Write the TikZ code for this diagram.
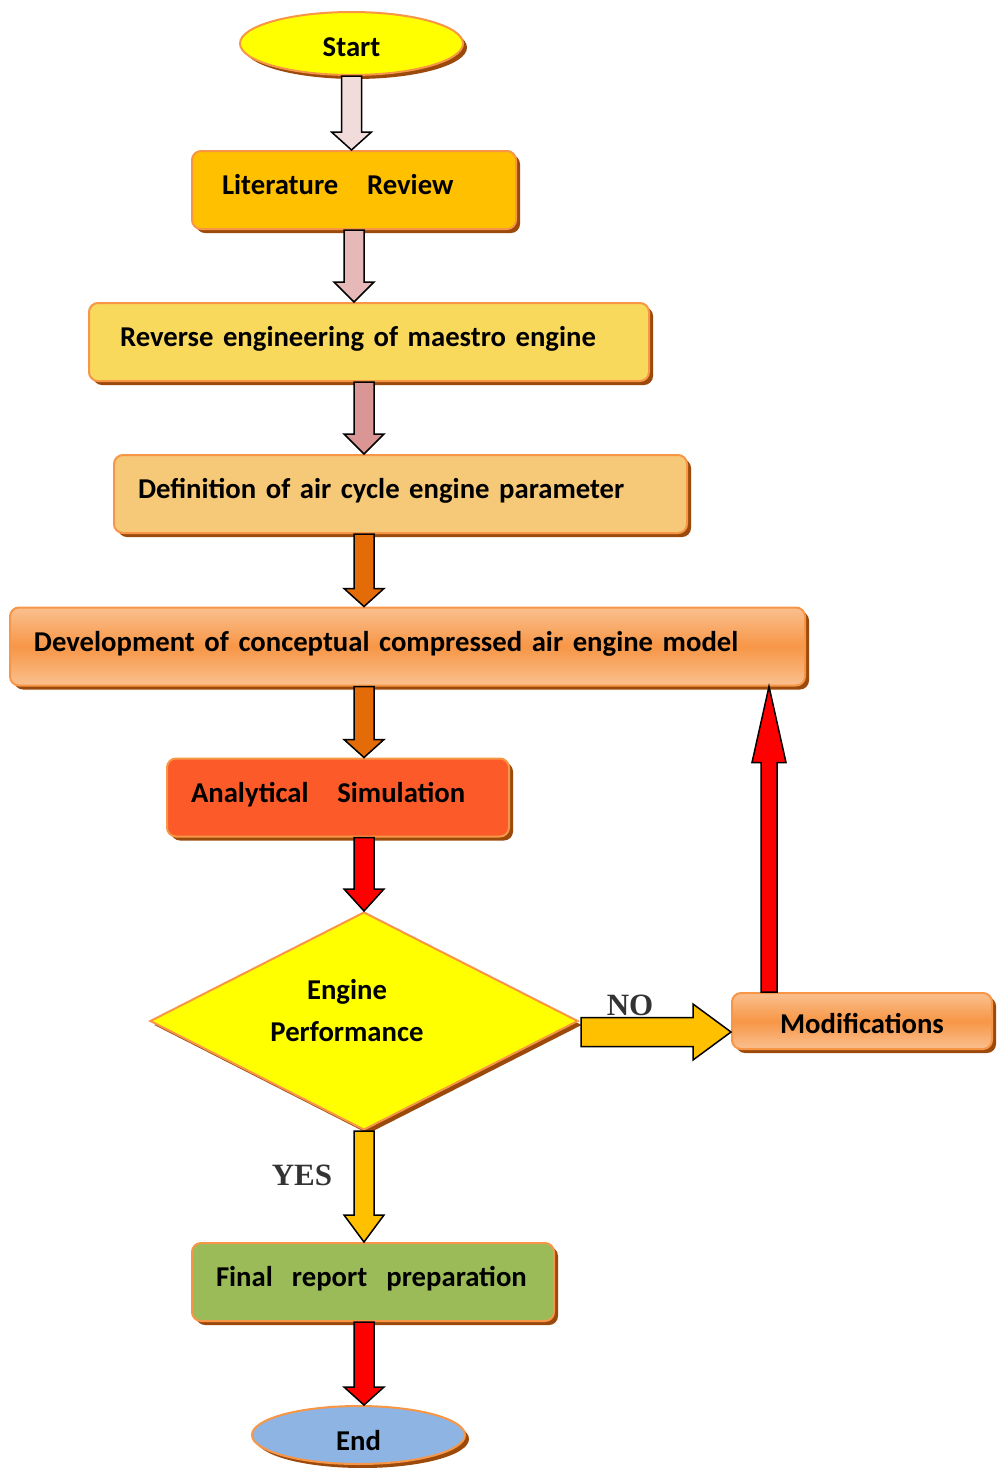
\documentclass[tikz,border=0pt]{standalone}
\usepackage{fontspec}
\setmainfont{Carlito}
\newfontfamily\yesnofont{Liberation Serif}
\usetikzlibrary{shapes.geometric}
\usetikzlibrary{shadows}
\usetikzlibrary{calc}

\definecolor{edgeorange}{HTML}{F79646}
\definecolor{shadebrown}{HTML}{9C4A0C}
\definecolor{startyellow}{HTML}{FFFF00}
\definecolor{litfill}{HTML}{FFC000}
\definecolor{revfill}{HTML}{F9D95B}
\definecolor{defnfill}{HTML}{F5C977}
\definecolor{devlight}{HTML}{FAC08F}
\definecolor{devmid}{HTML}{F79646}
\definecolor{anafill}{HTML}{FC5A28}
\definecolor{finalfill}{HTML}{9BBB59}
\definecolor{endblue}{HTML}{8EB4E3}
\definecolor{pinkA}{HTML}{F2DCDB}
\definecolor{pinkB}{HTML}{E6B9B8}
\definecolor{pinkC}{HTML}{D99694}
\definecolor{burnt}{HTML}{E36C09}
\definecolor{amber}{HTML}{FFC000}
\definecolor{answergray}{HTML}{333333}

% fat outlined arrow: from, to, fill, shaft half width, head half width, head length
\newcommand{\blockarrow}[6]{%
  \draw[blockline, fill=#3]
    ($(#1)!#4!-90:(#2)$) --
    ($(#2)!#6!(#1)!#4!90:(#1)$) --
    ($(#2)!#6!(#1)!#5!90:(#1)$) --
    (#2) --
    ($(#2)!#6!(#1)!#5!-90:(#1)$) --
    ($(#2)!#6!(#1)!#4!-90:(#1)$) --
    ($(#1)!#4!90:(#2)$) -- cycle;}

\tikzset{
  basefont/.style={font=\fontsize{28.7}{34}\selectfont\bfseries},
  brownshadow/.style={drop shadow={shadow xshift=4pt, shadow yshift=-4pt, fill=shadebrown, opacity=1}},
  procbox/.style={rectangle, rounded corners=9pt, draw=edgeorange, line width=2pt, basefont, brownshadow,
    align=left, inner xsep=24pt, inner ysep=0pt, minimum height=78pt, text height=20pt, text depth=11pt},
  terminal/.style={ellipse, draw=edgeorange, line width=2pt, basefont, brownshadow, inner sep=0pt, text depth=0pt},
  decision/.style={diamond, draw=edgeorange, line width=2pt, brownshadow, inner sep=0pt},
  shadedorange/.style={top color=devlight, bottom color=devlight, middle color=devmid},
  blockline/.style={draw=black, line width=1.5pt, line join=miter},
  answer/.style={font=\yesnofont\bfseries\fontsize{31}{31}\selectfont, text=answergray},
}

\begin{document}
\begin{tikzpicture}[x=1pt, y=-1pt]
  \useasboundingbox (0,0) rectangle (1001,1468);

  \node[terminal, fill=startyellow, minimum width=223pt, minimum height=63pt, text height=25pt] (start) at (351.5,43.5) {Start};
  \node[procbox, fill=litfill, inner xsep=30pt, text width=264pt]  (lit)   at (354,190)    {Literature\ \ \ Review};
  \node[procbox, fill=revfill, inner xsep=31pt, text width=498pt]  (rev)   at (369,342)    {Reverse engineering of maestro engine};
  \node[procbox, fill=defnfill, text width=525pt]                  (defn)  at (400.5,494)  {Definition of air cycle engine parameter};
  \node[procbox, shadedorange, text width=747pt]                   (dev)   at (407.5,646.5) {Development of conceptual compressed air engine model};
  \node[procbox, fill=anafill, text width=294pt]                   (ana)   at (338,797.5)  {Analytical\ \ \ Simulation};
  \node[decision, fill=startyellow, minimum width=428pt, minimum height=218pt] (perf) at (364,1021) {};
  \node[basefont, align=center] (perftxt) at (347,1011) {Engine\\[8pt]Performance};
  \node[procbox, shadedorange, align=center, minimum width=260pt, minimum height=56pt, text depth=0pt, text height=24pt] (mod) at (862,1021) {Modifications};
  \node[procbox, fill=finalfill, text width=314pt]                 (final) at (373,1282)   {Final\ \ report\ \ preparation};
  \node[terminal, fill=endblue, minimum width=213pt, minimum height=58pt, text height=31pt] (fin) at (358.5,1435) {End};

  \node[answer] (no)  at (630,1005) {NO};
  \node[answer] (yes) at (302,1175) {YES};

  \coordinate (nofoot) at ($(perf.east)+(2,11)$);
  \coordinate (upfoot) at ($(mod.north west)+(38,0)$);

  \blockarrow{start.south}{lit.north -| start.south}{pinkA}{10pt}{20pt}{18pt}
  \blockarrow{lit.south}{rev.north -| lit.south}{pinkB}{10pt}{20pt}{20pt}
  \blockarrow{rev.south -| perf.north}{defn.north -| perf.north}{pinkC}{10pt}{20pt}{20pt}
  \blockarrow{defn.south -| perf.north}{dev.north -| perf.north}{burnt}{10pt}{20pt}{18pt}
  \blockarrow{dev.south -| perf.north}{ana.north -| perf.north}{burnt}{10pt}{20pt}{18pt}
  \blockarrow{ana.south -| perf.north}{perf.north}{red}{10pt}{20pt}{22pt}
  \blockarrow{nofoot}{nofoot -| mod.west}{amber}{14.5pt}{28pt}{38pt}
  \blockarrow{upfoot}{upfoot |- dev.south}{red}{8pt}{17pt}{76pt}
  \blockarrow{perf.south}{final.north -| perf.south}{amber}{10pt}{20pt}{27pt}
  \blockarrow{final.south -| perf.south}{fin.north -| perf.south}{red}{10pt}{20pt}{18pt}
\end{tikzpicture}
\end{document}
